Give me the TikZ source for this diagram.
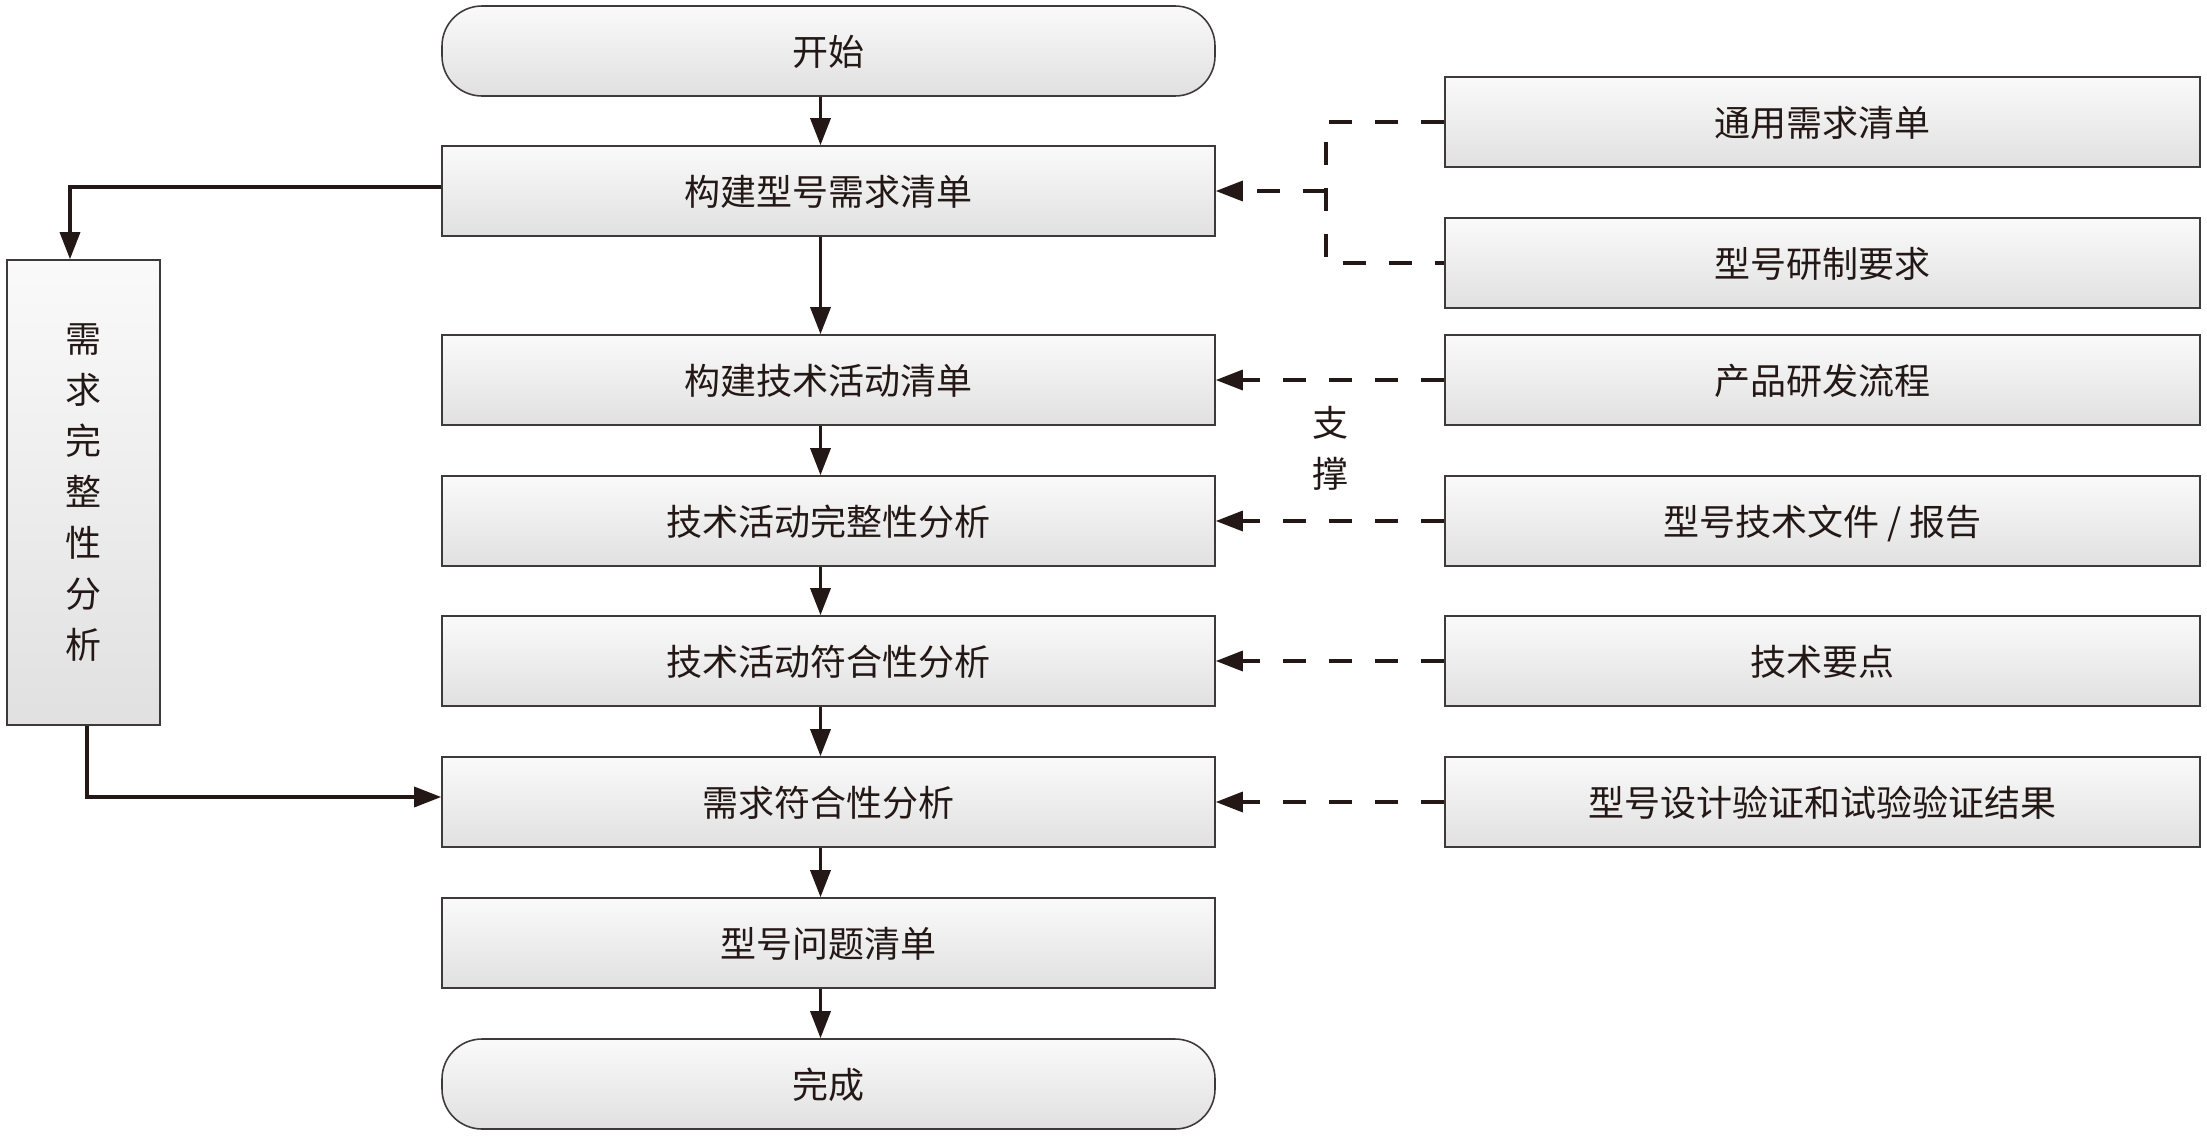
\documentclass[tikz,border=0pt]{standalone}
\usepackage{fontspec}
\setmainfont{Noto Sans CJK SC}
\usetikzlibrary{arrows.meta}
\definecolor{inkc}{HTML}{231815}
\definecolor{edgec}{HTML}{3E3A39}
\tikzset{
  box/.style={draw=edgec,line width=0.9pt,top color=gray!4,bottom color=gray!24,
    minimum width=15.46cm,minimum height=1.8cm,inner sep=0pt,
    text height=1.6em,text depth=0pt,
    font=\fontsize{20.5}{24}\selectfont,text=inkc},
  endbox/.style={box,rounded corners=0.8cm},
  srcbox/.style={box,minimum width=15.1cm},
  tip/.style={-{Triangle[length=0.54cm,width=0.4cm]}},
  arr/.style={draw=inkc,line width=1.9pt,tip},
  dsh/.style={draw=inkc,line width=1.9pt,dash pattern=on 0.46cm off 0.46cm},
}
\begin{document}
\begin{tikzpicture}
    \useasboundingbox (0,0) rectangle (44.14,-22.74);
    %% NOTE:
    %% main column
    \node[endbox] (start)    at (16.57,-1.02)  {开始};
    \node[box]    (build)    at (16.57,-3.82)  {构建型号需求清单};
    \node[box]    (techlist) at (16.57,-7.60)  {构建技术活动清单};
    \node[box]    (techcomp) at (16.57,-10.42) {技术活动完整性分析};
    \node[box]    (techconf) at (16.57,-13.22) {技术活动符合性分析};
    \node[box]    (reqconf)  at (16.57,-16.04) {需求符合性分析};
    \node[box]    (issues)   at (16.57,-18.86) {型号问题清单};
    \node[endbox] (finish)   at (16.57,-21.68) {完成};
    %% inputs on the right
    \node[srcbox] (general) at (36.45,-2.44)  {通用需求清单};
    \node[srcbox] (devreq)  at (36.45,-5.26)  {型号研制要求};
    \node[srcbox] (process) at (36.45,-7.60)  {产品研发流程};
    \node[srcbox] (docs)    at (36.45,-10.42) {型号技术文件 / 报告};
    \node[srcbox] (keypts)  at (36.45,-13.22) {技术要点};
    \node[srcbox] (verify)  at (36.45,-16.04) {型号设计验证和试验验证结果};
    %% side check
    \node[box,minimum width=3.06cm,minimum height=9.3cm,text height=,text depth=,
          align=center,font=\fontsize{20.5}{29}\selectfont] (reqcomp) at (1.67,-9.85)
          {需\\求\\完\\整\\性\\分\\析};
    %% flow
    \foreach \a/\b in {start/build,build/techlist,techlist/techcomp,techcomp/techconf,
                       techconf/reqconf,reqconf/issues,issues/finish}
        \draw[arr] ([xshift=-0.16cm]\a.south) -- ([xshift=-0.16cm]\b.north);
    \draw[arr] ([yshift=0.08cm]build.west) -| ([xshift=-0.27cm]reqcomp.north);
    \draw[arr] ([xshift=0.07cm]reqcomp.south) |- ([yshift=0.1cm]reqconf.west);
    %% support links
    \coordinate (split) at (26.52,-3.82);
    \draw[dsh] (general.west) -| (split) |- (devreq.west);
    \draw[dsh,tip] (split) -- (build.east);
    \foreach \s/\t in {process/techlist,docs/techcomp,keypts/techconf,verify/reqconf}
        \draw[dsh,tip] (\s) -- (\t);
    \node[align=center,font=\fontsize{20.5}{29}\selectfont,text=inkc] (support) at (26.6,-8.96) {支\\撑};
\end{tikzpicture}
\end{document}
